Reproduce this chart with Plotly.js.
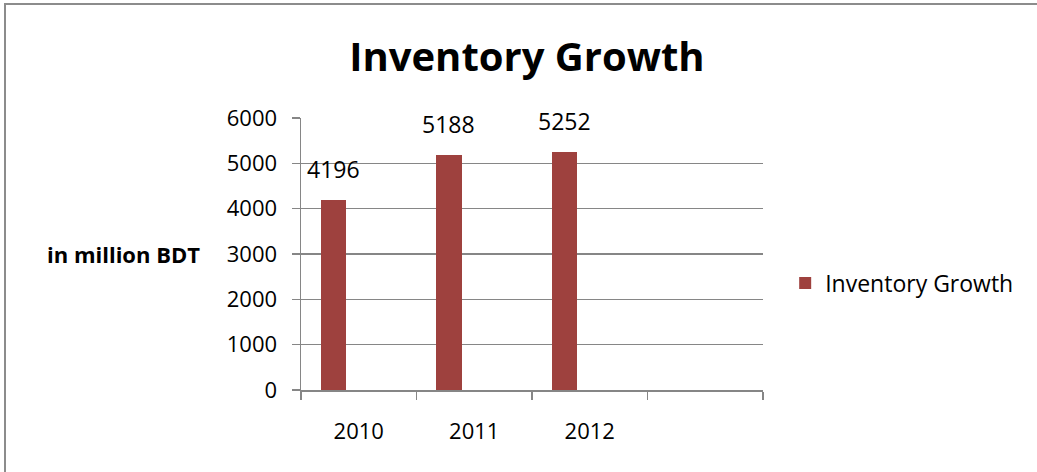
<!DOCTYPE html>
<html>
<head>
<meta charset="utf-8">
<script src="https://cdn.plot.ly/plotly-3.0.1.min.js"></script>
<style>html,body{margin:0;padding:0;background:#fff;}#chart{width:1037px;height:472px;}</style>
</head>
<body>
<div id="chart"></div>
<script>
const categories = ['2010', '2011', '2012'];
const values = [4196, 5188, 5252];
const seriesName = 'Inventory Growth';
const chartTitle = 'Inventory Growth';
const yAxisTitle = 'in million BDT';
const slotBoundaries = [-0.5, 0.5, 1.5, 2.5, 3.5];

const FONT = '"Open Sans", "Noto Sans", sans-serif';
const BAR = '#9E413E';
const GRID = '#868686';

const barTrace = {
  type: 'bar',
  x: categories.map((c, i) => i),
  y: values,
  name: seriesName,
  width: 0.221,
  offset: -0.33,
  marker: {color: BAR},
  hoverinfo: 'skip'
};

const annotations = values.map((v, i) => ({
  x: i - 0.33 + 0.1105,
  y: v,
  xref: 'x',
  yref: 'y',
  text: String(v),
  showarrow: false,
  yanchor: 'bottom',
  yshift: 13,
  font: {family: FONT, size: 23, color: '#000'}
}));

annotations.push({
  xref: 'paper', yref: 'paper',
  x: -0.554, y: 0.5, xanchor: 'left', yanchor: 'middle',
  text: '<b>' + yAxisTitle + '</b>', showarrow: false,
  font: {family: FONT, size: 22, color: '#000'}
});

const layout = {
  width: 1037,
  height: 472,
  margin: {l: 301, r: 274, t: 118, b: 82},
  paper_bgcolor: '#fff',
  plot_bgcolor: '#fff',
  font: {family: FONT, color: '#000'},
  title: {
    text: '<b>' + chartTitle + '</b>',
    x: 0.489, xref: 'paper', xanchor: 'center',
    y: 0.879, yref: 'container', yanchor: 'middle',
    font: {family: FONT, size: 40, color: '#000'}
  },
  xaxis: {
    type: 'linear',
    range: [-0.5, 3.5],
    tickmode: 'array',
    tickvals: slotBoundaries,
    ticktext: slotBoundaries.map(() => ''),
    ticks: 'outside', ticklen: 8, tickwidth: 1.5, tickcolor: GRID,
    showline: true, linecolor: GRID, linewidth: 1.5,
    showgrid: false, zeroline: false, fixedrange: true
  },
  xaxis2: {
    type: 'linear',
    overlaying: 'x',
    anchor: 'y',
    side: 'bottom',
    range: [-0.5, 3.5],
    tickmode: 'array',
    tickvals: categories.map((c, i) => i),
    ticktext: categories,
    ticks: '', showline: false, showgrid: false, zeroline: false,
    ticklabelstandoff: 26,
    tickfont: {family: FONT, size: 22, color: '#000'},
    fixedrange: true
  },
  yaxis: {
    range: [0, 6000],
    dtick: 1000,
    tick0: 0,
    ticks: 'outside', ticklen: 8, tickwidth: 1.5, tickcolor: GRID,
    showline: true, linecolor: GRID, linewidth: 1.5,
    showgrid: true, gridcolor: GRID, gridwidth: 1.5,
    zeroline: false,
    ticklabelstandoff: 10,
    tickfont: {family: FONT, size: 22, color: '#000'},
    fixedrange: true
  },
  showlegend: true,
  legend: {
    x: 1.048, xanchor: 'left', y: 0.393, yanchor: 'middle',
    font: {family: FONT, size: 23, color: '#000'},
    bgcolor: 'rgba(0,0,0,0)',
    itemwidth: 30
  },
  bargap: 0,
  annotations: annotations,
  shapes: [{
    type: 'rect', xref: 'paper', yref: 'paper',
    x0: -0.6407, x1: 1.6, y0: -0.35, y1: 1.419,
    line: {color: '#8C8C8C', width: 2},
    fillcolor: 'rgba(0,0,0,0)', layer: 'below'
  }]
};

const helper = {
  type: 'scatter', x: [0], y: [0], xaxis: 'x2', yaxis: 'y',
  mode: 'markers', marker: {opacity: 0}, showlegend: false, hoverinfo: 'skip'
};

Plotly.newPlot('chart', [barTrace, helper], layout, {staticPlot: true, displayModeBar: false});
</script>
</body>
</html>
